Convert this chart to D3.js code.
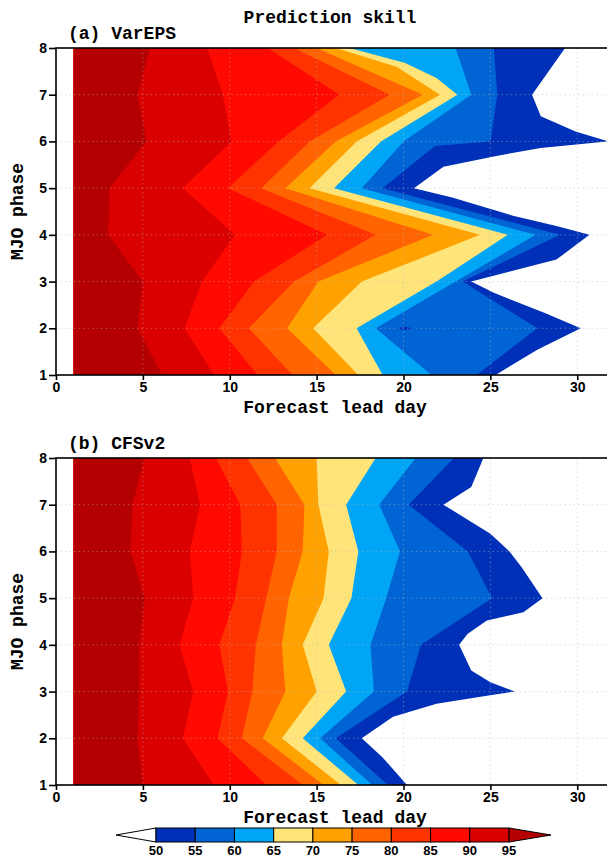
<!DOCTYPE html>
<html>
<head>
<meta charset="utf-8">
<script src="https://cdn.jsdelivr.net/npm/d3@7"></script>
<style>
  html, body { margin: 0; padding: 0; background: #fff; }
  svg { display: block; }
</style>
</head>
<body>
<svg id="chart" width="607" height="859"></svg>
<script>
// Skill levels (%) bounding each shaded band, lowest first
const levels = [50, 55, 60, 65, 70, 75, 80, 85, 90, 95];
// bandColors[i] fills skill between levels[i] and levels[i + 1]; the last one is > 95
const bandColors = ["#0030B8", "#0064D4", "#00A6F5", "#FFE47A", "#FFA200",
                    "#FF6400", "#FF3300", "#FF0A00", "#DA0000", "#B40000"];
const phases = [1, 2, 3, 4, 5, 6, 7, 8];
const dayTicks = [0, 5, 10, 15, 20, 25, 30];
const firstDay = 1;
const lastDay = 32;

// VarEPS: lead day at which skill falls to each level, as [MJO phase, lead day]
const varepsL50 = [[1, 25.3], [1.18, 26.1], [1.54, 27.7], [2, 30.2], [2.33, 28.1], [2.76, 25.2], [3, 23.9],
                   [3.47, 28.8], [4, 30.7], [4.19, 28.8], [4.41, 26.3], [4.8, 22.8], [5, 20.6], [5.46, 22.3],
                   [5.68, 25.2], [5.86, 27.9], [6, 31.8], [6.21, 29.9], [6.54, 27.9], [7, 27.4], [8, 29.3]];
const varepsL55 = [[1, 24.2], [2, 27.7], [3, 23.4], [4, 29.0], [5, 18.8], [5.9, 21.8], [6, 25.0], [7, 25.4], [8, 25.2]];
const varepsL60 = [[1, 21.6], [2, 18.4], [3, 23.0], [4, 27.6], [5, 17.6], [6, 20.0], [7, 23.9], [8, 23.0]];
const varepsL65 = [[1, 18.8], [2, 17.3], [3, 21.9], [4, 26.0], [5, 16.0], [6, 18.7], [7, 23.1], [7.36, 21.9], [7.68, 20.1], [8, 16.9]];
const varepsL70 = [[1, 17.4], [2, 14.8], [3, 17.6], [4, 24.4], [5, 14.6], [6, 17.3], [7, 22.1], [7.6, 19.6], [8, 16.1]];
const varepsL75 = [[1, 16.1], [2, 13.3], [3, 15.1], [4, 21.7], [5, 13.2], [6, 16.1], [7, 21.1], [8, 15.0]];
const varepsL80 = [[1, 13.6], [2, 11.1], [3, 13.7], [4, 18.4], [5, 11.8], [6, 14.6], [7, 19.2], [8, 13.7]];
const varepsL85 = [[1, 11.6], [2, 9.4], [3, 11.4], [4, 15.6], [5, 9.9], [6, 12.8], [7, 16.3], [8, 12.2]];
const varepsL90 = [[1, 9.1], [2, 7.4], [3, 8.4], [4, 10.3], [5, 7.3], [6, 10.1], [7, 9.6], [8, 8.7]];
const varepsL95 = [[1, 6.1], [2, 4.7], [3, 5.0], [4, 3.0], [5, 3.1], [6, 5.2], [7, 4.7], [8, 5.4]];
// small pocket below 55 % inside the 55-60 band near day 20, phase 2
const varepsPocket50 = [[2, 19.6], [2.035, 20.1], [2, 20.6], [1.965, 20.1]];

// CFSv2: lead day at which skill falls to each level, as [MJO phase, lead day]
const cfsL50 = [[1, 20.2], [1.59, 18.8], [2, 17.6], [2.46, 19.4], [2.74, 21.9], [2.91, 24.8], [3, 26.4],
                [3.2, 25.0], [3.45, 23.9], [4, 23.2], [4.24, 23.7], [4.52, 24.8], [4.7, 26.9], [5, 28.0],
                [5.66, 26.8], [6, 26.1], [6.38, 25.0], [7, 22.3], [7.38, 23.9], [8, 24.6]];
const cfsL55 = [[1, 19.1], [2, 16.1], [3, 20.2], [4, 21.0], [5, 25.1], [6, 23.7], [7, 20.3], [8, 22.9]];
const cfsL60 = [[1, 18.2], [2, 15.2], [3, 18.3], [4, 18.1], [5, 19.0], [6, 19.8], [7, 18.6], [8, 20.7]];
const cfsL65 = [[1, 17.4], [2, 14.2], [3, 16.7], [4, 15.7], [5, 17.0], [6, 17.4], [7, 16.7], [8, 18.4]];
const cfsL70 = [[1, 16.4], [2, 13.0], [3, 15.0], [4, 14.2], [5, 15.4], [6, 15.7], [7, 15.1], [8, 15.0]];
const cfsL75 = [[1, 15.4], [2, 11.9], [3, 13.2], [4, 13.0], [5, 13.4], [6, 14.2], [7, 14.3], [8, 12.6]];
const cfsL80 = [[1, 14.2], [2, 10.7], [3, 11.3], [4, 11.5], [5, 12.1], [6, 12.7], [7, 12.7], [8, 11.0]];
const cfsL85 = [[1, 12.1], [2, 9.3], [3, 9.9], [4, 9.4], [5, 10.3], [6, 10.7], [7, 10.6], [8, 9.2]];
const cfsL90 = [[1, 9.1], [2, 7.3], [3, 7.9], [4, 7.1], [5, 7.9], [6, 7.7], [7, 8.3], [8, 7.7]];
const cfsL95 = [[1, 5.0], [2, 4.7], [3, 4.8], [4, 4.8], [5, 5.1], [6, 4.3], [7, 4.4], [8, 5.1]];

const monoFont = "'Liberation Mono', 'DejaVu Sans Mono', monospace";
const sansFont = "'Liberation Sans', Arial, sans-serif";

const svg = d3.select("#chart");
const defs = svg.append("defs");
const x = d3.scaleLinear().domain([0, lastDay]).range([56, 612]);

const panels = [
  { id: "a", label: "(a) VarEPS", top: 48, bottom: 375,
    lines: [varepsL50, varepsL55, varepsL60, varepsL65, varepsL70, varepsL75, varepsL80, varepsL85, varepsL90, varepsL95],
    pockets: [varepsPocket50] },
  { id: "b", label: "(b) CFSv2", top: 458, bottom: 785,
    lines: [cfsL50, cfsL55, cfsL60, cfsL65, cfsL70, cfsL75, cfsL80, cfsL85, cfsL90, cfsL95],
    pockets: [] }
];

// title
svg.append("text")
  .attr("x", 330).attr("y", 23)
  .attr("text-anchor", "middle")
  .attr("font-family", monoFont).attr("font-weight", "bold").attr("font-size", 18)
  .text("Prediction skill");

panels.forEach(p => {
  const y = d3.scaleLinear().domain([1, 8]).range([p.bottom, p.top]);
  const g = svg.append("g");

  defs.append("clipPath").attr("id", "clip-" + p.id)
    .append("rect")
    .attr("x", x(firstDay)).attr("y", y(8))
    .attr("width", x(lastDay) - x(firstDay)).attr("height", y(1) - y(8));

  const fills = g.append("g").attr("clip-path", `url(#clip-${p.id})`);
  const path = d3.line().x(d => x(d[1])).y(d => y(d[0]));

  // each level's region runs from day 1 out to its lead-day line;
  // painting low levels first leaves every band in its own colour
  p.lines.forEach((pts, i) => {
    const ring = [[phases[0], firstDay], ...pts, [phases[phases.length - 1], firstDay]];
    fills.append("path")
      .attr("d", path(ring) + "Z")
      .attr("fill", bandColors[i]);
  });
  p.pockets.forEach(pts => {
    fills.append("path").attr("d", path(pts) + "Z").attr("fill", bandColors[0]);
  });

  // dotted reference grid
  const grid = g.append("g")
    .attr("stroke", "#b8b8b8").attr("stroke-opacity", 0.45)
    .attr("stroke-width", 1).attr("stroke-dasharray", "1.5,3");
  phases.slice(1, -1).forEach(ph => {
    grid.append("line").attr("x1", x(0)).attr("x2", x(lastDay)).attr("y1", y(ph)).attr("y2", y(ph));
  });
  dayTicks.slice(1).forEach(d => {
    grid.append("line").attr("x1", x(d)).attr("x2", x(d)).attr("y1", y(8)).attr("y2", y(1));
  });

  // axes
  const yAxis = d3.axisLeft(y).tickValues(phases).tickFormat(d3.format("d"))
    .tickSize(7).tickPadding(2);
  const yg = g.append("g").attr("transform", `translate(${x(0)},0)`).call(yAxis);
  const xAxis = d3.axisBottom(x).tickValues(dayTicks).tickFormat(d3.format("d"))
    .tickSize(5).tickPadding(2);
  const xg = g.append("g").attr("transform", `translate(0,${y(1)})`).call(xAxis);
  [yg, xg].forEach(a => {
    a.select(".domain").remove();
    a.selectAll(".tick line").attr("stroke", "#000").attr("stroke-width", 1.6);
    a.selectAll(".tick text")
      .attr("fill", "#000")
      .attr("font-family", sansFont).attr("font-weight", "bold").attr("font-size", 14);
  });

  // frame
  g.append("rect")
    .attr("x", x(0)).attr("y", y(8))
    .attr("width", x(lastDay) - x(0)).attr("height", y(1) - y(8))
    .attr("fill", "none").attr("stroke", "#000").attr("stroke-width", 1.6);

  // panel label and axis titles
  g.append("text")
    .attr("x", 68).attr("y", y(8) - 9)
    .attr("font-family", monoFont).attr("font-weight", "bold").attr("font-size", 18)
    .text(p.label);
  g.append("text")
    .attr("x", 335).attr("y", y(1) + 38)
    .attr("text-anchor", "middle")
    .attr("font-family", monoFont).attr("font-weight", "bold").attr("font-size", 18)
    .text("Forecast lead day");
  g.append("text")
    .attr("transform", `translate(23,${(y(1) + y(8)) / 2}) rotate(-90)`)
    .attr("text-anchor", "middle")
    .attr("font-family", monoFont).attr("font-weight", "bold").attr("font-size", 18)
    .text("MJO phase");
});

// colour bar
const cb = d3.scaleLinear().domain([levels[0], levels[levels.length - 1]]).range([156, 509]);
const cbTop = 828, cbBottom = 842, cbMid = (cbTop + cbBottom) / 2;
const bar = svg.append("g").attr("stroke", "#000").attr("stroke-width", 1);
bar.append("path")
  .attr("d", d3.line()([[cb(levels[0]), cbTop], [116, cbMid], [cb(levels[0]), cbBottom]]) + "Z")
  .attr("fill", "#fff");
levels.slice(0, -1).forEach((lev, i) => {
  bar.append("rect")
    .attr("x", cb(lev)).attr("y", cbTop)
    .attr("width", cb(levels[i + 1]) - cb(lev)).attr("height", cbBottom - cbTop)
    .attr("fill", bandColors[i]);
});
bar.append("path")
  .attr("d", d3.line()([[cb(levels[levels.length - 1]), cbTop], [551, cbMid], [cb(levels[levels.length - 1]), cbBottom]]) + "Z")
  .attr("fill", bandColors[bandColors.length - 1]);
svg.append("g").selectAll("text").data(levels).join("text")
  .attr("x", d => cb(d)).attr("y", 855)
  .attr("text-anchor", "middle")
  .attr("font-family", sansFont).attr("font-weight", "bold").attr("font-size", 13)
  .text(d => d);
</script>
</body>
</html>
